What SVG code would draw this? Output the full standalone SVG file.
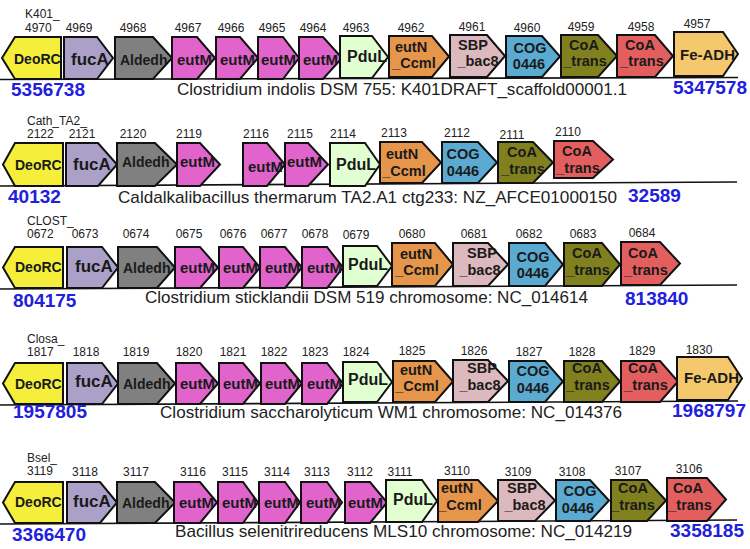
<svg xmlns="http://www.w3.org/2000/svg" width="750" height="549" viewBox="0 0 750 549">
<style>
polygon{stroke:#111;stroke-width:2;stroke-linejoin:miter}
.deo{fill:#f5ef3c}.fuc{fill:#aaa0c8}.ald{fill:#808080}.eut{fill:#e064cc}.pdu{fill:#e2ffd2}
.etn{fill:#e6964b}.sbp{fill:#dcb9be}.cog{fill:#5aaad2}.coa{fill:#80801e}.cor{fill:#e35f5f}.fe{fill:#f5c86e}
text{font-family:"Liberation Sans",Arial,sans-serif;fill:#1a1a1a}
.g{font-weight:bold;font-size:15px}
.g .s{text-anchor:middle;font-size:14.5px}
.f14{font-size:14px}.f16{font-size:16px}.f17{font-size:17px}
.g .n{font-size:12px;font-weight:normal;fill:#222;text-anchor:middle}
.g .nl{font-size:12px;font-weight:normal;fill:#222}
.sp{font-size:17px;fill:#222}
.bl{font-size:19px;font-weight:bold;fill:#2020dd}
.bb{stroke:#111;stroke-width:1.6}
</style>
<g id="backbones">
<line class="bb" x1="0" y1="79.5" x2="738" y2="77.5"/>
<line class="bb" x1="0" y1="186" x2="737" y2="182"/>
<line class="bb" x1="0" y1="289" x2="737" y2="285"/>
<line class="bb" x1="0" y1="405" x2="738" y2="401"/>
<line class="bb" x1="0" y1="524" x2="737" y2="520"/>
</g>

<g id="row1">
<g id="r1-g4970" class="g"><polygon class="deo" points="2,58 15,37 61,37 61,79 15,79"/><text class="f14" x="14" y="64">DeoRC</text><text class="nl" x="25" y="18">K401_</text><text class="nl" x="25" y="31.5">4970</text></g>
<g id="r1-g4969" class="g"><polygon class="fuc" points="64,37 97,37 113,58 97,79 64,79"/><text class="f17" x="71" y="65">fucA</text><text class="n" x="79" y="31.5">4969</text></g>
<g id="r1-g4968" class="g"><polygon class="ald" points="115,37 153,37 172,58 153,79 115,79"/><text class="f14" x="120" y="65">Aldedh</text><text class="n" x="133" y="31.5">4968</text></g>
<g id="r1-g4967" class="g"><polygon class="eut" points="172,37 197,37 215,58 197,79 172,79"/><text x="177" y="65">eutM</text><text class="n" x="188" y="31.5">4967</text></g>
<g id="r1-g4966" class="g"><polygon class="eut" points="216,37 240,37 258,58 240,79 216,79"/><text x="220" y="65">eutM</text><text class="n" x="231" y="31.5">4966</text></g>
<g id="r1-g4965" class="g"><polygon class="eut" points="258,37 283,37 299,58 283,79 258,79"/><text x="261" y="65">eutM</text><text class="n" x="272" y="31.5">4965</text></g>
<g id="r1-g4964" class="g"><polygon class="eut" points="299,37 323,37 342,58 323,79 299,79"/><text x="303" y="65">eutM</text><text class="n" x="313" y="31.5">4964</text></g>
<g id="r1-g4963" class="g"><polygon class="pdu" points="340,36 372,36 388,57 372,78 340,78"/><text class="f16" x="347" y="62">PduL</text><text class="n" x="356" y="31.5">4963</text></g>
<g id="r1-g4962" class="g"><polygon class="etn" points="389,36 432,36 449,56.5 432,77 389,77"/><text class="s" x="411" y="52">eutN</text><text class="s" x="414" y="68">_Ccml</text><text class="n" x="411" y="31.5">4962</text></g>
<g id="r1-g4961" class="g"><polygon class="sbp" points="450,35 487,35 505,56 487,77 450,77"/><text class="s" x="473" y="50">SBP</text><text class="s" x="478" y="66">_bac8</text><text class="n" x="472" y="31">4961</text></g>
<g id="r1-g4960" class="g"><polygon class="cog" points="506,36 542,36 560,56.5 542,77 506,77"/><text class="s" x="530" y="53">COG</text><text class="s" x="529" y="69">0446</text><text class="n" x="527" y="31.5">4960</text></g>
<g id="r1-g4959" class="g"><polygon class="coa" points="561,35 598,35 617,56 598,77 561,77"/><text class="s" x="584" y="50">CoA</text><text class="s" x="585" y="66">_trans</text><text class="n" x="581" y="31">4959</text></g>
<g id="r1-g4958" class="g"><polygon class="cor" points="617,35 655,35 673,56 655,77 617,77"/><text class="s" x="640" y="50">CoA</text><text class="s" x="642" y="66">_trans</text><text class="n" x="641" y="31">4958</text></g>
<g id="r1-g4957" class="g"><polygon class="fe" points="674,32 723,32 738,54 723,76 674,76"/><text x="680" y="60">Fe-ADH</text><text class="n" x="697" y="28">4957</text></g>
<text class="bl" x="11" y="96">5356738</text>
<text class="sp" x="177" y="95" textLength="450" lengthAdjust="spacingAndGlyphs">Clostridium indolis DSM 755: K401DRAFT_scaffold00001.1</text>
<text class="bl" x="673" y="94">5347578</text>
</g>

<g id="row2">
<g id="r2-g2122" class="g"><polygon class="deo" points="3,164.5 15,143 63,143 63,186 15,186"/><text class="f14" x="15" y="170">DeoRC</text><text class="nl" x="27" y="125">Cath_TA2_</text><text class="nl" x="27" y="138">2122</text></g>
<g id="r2-g2121" class="g"><polygon class="fuc" points="66,143 98,143 117,164.5 98,186 66,186"/><text class="f17" x="73" y="170">fucA</text><text class="n" x="82" y="138">2121</text></g>
<g id="r2-g2120" class="g"><polygon class="ald" points="117,143 155,143 177,164.5 155,186 117,186"/><text class="f14" x="122" y="167">Aldedh</text><text class="n" x="133" y="138">2120</text></g>
<g id="r2-g2119" class="g"><polygon class="eut" points="177,143 200,143 220,164.5 200,186 177,186"/><text x="180" y="167">eutM</text><text class="n" x="189" y="138">2119</text></g>
<g id="r2-g2116" class="g"><polygon class="eut" points="243,143 267,143 285,164.5 267,186 243,186"/><text x="248" y="172">eutM</text><text class="n" x="256" y="138">2116</text></g>
<g id="r2-g2115" class="g"><polygon class="eut" points="285,143 308,143 328,164.5 308,186 285,186"/><text x="287" y="167">eutM</text><text class="n" x="300" y="138">2115</text></g>
<g id="r2-g2114" class="g"><polygon class="pdu" points="330,143 365,143 380,164.5 365,186 330,186"/><text class="f16" x="336" y="170">PduL</text><text class="n" x="343" y="138">2114</text></g>
<g id="r2-g2113" class="g"><polygon class="etn" points="380,142 422,142 441,162.5 422,183 380,183"/><text class="s" x="402" y="159">eutN</text><text class="s" x="404" y="176">_Ccml</text><text class="n" x="394" y="137">2113</text></g>
<g id="r2-g2112" class="g"><polygon class="cog" points="442,142 478,142 497,162.5 478,183 442,183"/><text class="s" x="463" y="159">COG</text><text class="s" x="463" y="176">0446</text><text class="n" x="457" y="137">2112</text></g>
<g id="r2-g2111" class="g"><polygon class="coa" points="498,142 533,142 553,162.5 533,183 498,183"/><text class="s" x="522" y="157">CoA</text><text class="s" x="523" y="174">_trans</text><text class="n" x="512" y="139">2111</text></g>
<g id="r2-g2110" class="g"><polygon class="cor" points="554,141 593,141 613,159.5 593,178 554,178"/><text class="s" x="577" y="156">CoA</text><text class="s" x="578" y="173">_trans</text><text class="n" x="568" y="136">2110</text></g>
<text class="bl" x="8" y="203">40132</text>
<text class="sp" x="118" y="203" textLength="499" lengthAdjust="spacingAndGlyphs">Caldalkalibacillus thermarum TA2.A1 ctg233: NZ_AFCE01000150</text>
<text class="bl" x="628" y="202">32589</text>
</g>

<g id="row3">
<g id="r3-g0672" class="g"><polygon class="deo" points="3,267.5 15,247 63,247 63,288 15,288"/><text class="f14" x="15" y="272">DeoRC</text><text class="nl" x="27" y="225">CLOST_</text><text class="nl" x="27" y="238">0672</text></g>
<g id="r3-g0673" class="g"><polygon class="fuc" points="67,247 102,247 118,267.5 102,288 67,288"/><text class="f17" x="75" y="272">fucA</text><text class="n" x="85" y="238">0673</text></g>
<g id="r3-g0674" class="g"><polygon class="ald" points="118,247 157,247 175,267.5 157,288 118,288"/><text class="f14" x="123" y="273">Aldedh</text><text class="n" x="136" y="238">0674</text></g>
<g id="r3-g0675" class="g"><polygon class="eut" points="175,247 200,247 218,267.5 200,288 175,288"/><text x="180" y="273">eutM</text><text class="n" x="189" y="238">0675</text></g>
<g id="r3-g0676" class="g"><polygon class="eut" points="219,247 243,247 260,267.5 243,288 219,288"/><text x="223" y="273">eutM</text><text class="n" x="233" y="238">0676</text></g>
<g id="r3-g0677" class="g"><polygon class="eut" points="260,247 285,247 302,267.5 285,288 260,288"/><text x="265" y="273">eutM</text><text class="n" x="274" y="238">0677</text></g>
<g id="r3-g0678" class="g"><polygon class="eut" points="302,247 327,247 343,267.5 327,288 302,288"/><text x="307" y="273">eutM</text><text class="n" x="315" y="238">0678</text></g>
<g id="r3-g0679" class="g"><polygon class="pdu" points="343,246 377,246 392,266 377,286 343,286"/><text class="f16" x="348" y="270">PduL</text><text class="n" x="356" y="239">0679</text></g>
<g id="r3-g0680" class="g"><polygon class="etn" points="392,243 435,243 453,264.5 435,286 392,286"/><text class="s" x="416" y="259">eutN</text><text class="s" x="417" y="275">_Ccml</text><text class="n" x="412" y="238">0680</text></g>
<g id="r3-g0681" class="g"><polygon class="sbp" points="453,243 488,243 508,264.5 488,286 453,286"/><text class="s" x="482" y="258">SBP</text><text class="s" x="480" y="275">_bac8</text><text class="n" x="474" y="238">0681</text></g>
<g id="r3-g0682" class="g"><polygon class="cog" points="509,243 545,243 563,264.5 545,286 509,286"/><text class="s" x="533" y="262">COG</text><text class="s" x="533" y="278">0446</text><text class="n" x="529" y="238">0682</text></g>
<g id="r3-g0683" class="g"><polygon class="coa" points="564,243 602,243 620,264.5 602,286 564,286"/><text class="s" x="587" y="258">CoA</text><text class="s" x="588" y="275">_trans</text><text class="n" x="583" y="238">0683</text></g>
<g id="r3-g0684" class="g"><polygon class="cor" points="621,242 660,242 680,263.5 660,285 621,285"/><text class="s" x="643" y="258">CoA</text><text class="s" x="646" y="275">_trans</text><text class="n" x="642" y="237">0684</text></g>
<text class="bl" x="13" y="307">804175</text>
<text class="sp" x="145" y="303" textLength="443" lengthAdjust="spacingAndGlyphs">Clostridium sticklandii DSM 519 chromosome: NC_014614</text>
<text class="bl" x="625" y="305">813840</text>
</g>

<g id="row4">
<g id="r4-g1817" class="g"><polygon class="deo" points="3,383.5 15,363 63,363 63,404 15,404"/><text class="f14" x="15" y="389">DeoRC</text><text class="nl" x="27" y="343">Closa_</text><text class="nl" x="27" y="356">1817</text></g>
<g id="r4-g1818" class="g"><polygon class="fuc" points="67,363 102,363 118,383.5 102,404 67,404"/><text class="f17" x="75" y="387">fucA</text><text class="n" x="86" y="356">1818</text></g>
<g id="r4-g1819" class="g"><polygon class="ald" points="118,363 157,363 175,383.5 157,404 118,404"/><text class="f14" x="123" y="389">Aldedh</text><text class="n" x="136" y="356">1819</text></g>
<g id="r4-g1820" class="g"><polygon class="eut" points="176,363 200,363 218,383.5 200,404 176,404"/><text x="180" y="389">eutM</text><text class="n" x="189" y="356">1820</text></g>
<g id="r4-g1821" class="g"><polygon class="eut" points="219,363 243,363 260,383.5 243,404 219,404"/><text x="223" y="389">eutM</text><text class="n" x="233" y="356">1821</text></g>
<g id="r4-g1822" class="g"><polygon class="eut" points="261,363 285,363 302,383.5 285,404 261,404"/><text x="265" y="389">eutM</text><text class="n" x="274" y="356">1822</text></g>
<g id="r4-g1823" class="g"><polygon class="eut" points="302,363 327,363 343,383.5 327,404 302,404"/><text x="307" y="389">eutM</text><text class="n" x="315" y="356">1823</text></g>
<g id="r4-g1824" class="g"><polygon class="pdu" points="343,362 377,362 392,382 377,402 343,402"/><text class="f16" x="348" y="385">PduL</text><text class="n" x="356" y="356">1824</text></g>
<g id="r4-g1825" class="g"><polygon class="etn" points="393,361 435,361 453,381.5 435,402 393,402"/><text class="s" x="416" y="375">eutN</text><text class="s" x="417" y="391">_Ccml</text><text class="n" x="412" y="355">1825</text></g>
<g id="r4-g1826" class="g"><polygon class="sbp" points="453,360 488,360 508,381 488,402 453,402"/><text class="s" x="482" y="373">SBP</text><text class="s" x="480" y="390">_bac8</text><text class="n" x="474" y="355">1826</text></g>
<g id="r4-g1827" class="g"><polygon class="cog" points="509,361 545,361 563,381.5 545,402 509,402"/><text class="s" x="533" y="376">COG</text><text class="s" x="533" y="393">0446</text><text class="n" x="529" y="356">1827</text></g>
<g id="r4-g1828" class="g"><polygon class="coa" points="564,361 602,361 620,381.5 602,402 564,402"/><text class="s" x="587" y="373">CoA</text><text class="s" x="588" y="390">_trans</text><text class="n" x="582" y="356">1828</text></g>
<g id="r4-g1829" class="g"><polygon class="cor" points="621,361 660,361 678,381.5 660,402 621,402"/><text class="s" x="643" y="373">CoA</text><text class="s" x="646" y="390">_trans</text><text class="n" x="642" y="355">1829</text></g>
<g id="r4-g1830" class="g"><polygon class="fe" points="677,357 728,357 742,378.5 728,400 677,400"/><text x="684" y="383">Fe-ADH</text><text class="n" x="699" y="354">1830</text></g>
<text class="bl" x="13" y="418">1957805</text>
<text class="sp" x="160" y="418" textLength="462" lengthAdjust="spacingAndGlyphs">Clostridium saccharolyticum WM1 chromosome: NC_014376</text>
<text class="bl" x="672" y="417">1968797</text>
</g>

<g id="row5">
<g id="r5-g3119" class="g"><polygon class="deo" points="3,502.5 15,482 63,482 63,523 15,523"/><text class="f14" x="15" y="507">DeoRC</text><text class="nl" x="27" y="462">Bsel_</text><text class="nl" x="27" y="475">3119</text></g>
<g id="r5-g3118" class="g"><polygon class="fuc" points="67,482 100,482 117,502.5 100,523 67,523"/><text class="f17" x="73" y="507">fucA</text><text class="n" x="85" y="476">3118</text></g>
<g id="r5-g3117" class="g"><polygon class="ald" points="117,482 155,482 175,502.5 155,523 117,523"/><text class="f14" x="122" y="508">Aldedh</text><text class="n" x="136" y="476">3117</text></g>
<g id="r5-g3116" class="g"><polygon class="eut" points="174,482 200,482 217,502.5 200,523 174,523"/><text x="179" y="508">eutM</text><text class="n" x="193" y="476">3116</text></g>
<g id="r5-g3115" class="g"><polygon class="eut" points="218,482 243,482 258,502.5 243,523 218,523"/><text x="222" y="508">eutM</text><text class="n" x="235" y="476">3115</text></g>
<g id="r5-g3114" class="g"><polygon class="eut" points="259,482 285,482 300,502.5 285,523 259,523"/><text x="264" y="508">eutM</text><text class="n" x="277" y="476">3114</text></g>
<g id="r5-g3113" class="g"><polygon class="eut" points="301,482 327,482 342,502.5 327,523 301,523"/><text x="306" y="508">eutM</text><text class="n" x="317" y="476">3113</text></g>
<g id="r5-g3112" class="g"><polygon class="eut" points="345,482 370,482 387,502.5 370,523 345,523"/><text x="348" y="508">eutM</text><text class="n" x="360" y="476">3112</text></g>
<g id="r5-g3111" class="g"><polygon class="pdu" points="386,480 422,480 437,501 422,522 386,522"/><text class="f16" x="393" y="505">PduL</text><text class="n" x="400" y="476">3111</text></g>
<g id="r5-g3110" class="g"><polygon class="etn" points="438,480 478,480 498,501 478,522 438,522"/><text class="s" x="457" y="493">eutN</text><text class="s" x="460" y="510">_Ccml</text><text class="n" x="457" y="475">3110</text></g>
<g id="r5-g3109" class="g"><polygon class="sbp" points="498,480 535,480 555,500.5 535,521 498,521"/><text class="s" x="522" y="493">SBP</text><text class="s" x="525" y="510">_bac8</text><text class="n" x="518" y="476">3109</text></g>
<g id="r5-g3108" class="g"><polygon class="cog" points="556,480 590,480 609,500.5 590,521 556,521"/><text class="s" x="580" y="496">COG</text><text class="s" x="578" y="513">0446</text><text class="n" x="572" y="476">3108</text></g>
<g id="r5-g3107" class="g"><polygon class="coa" points="611,480 647,480 666,500.5 647,521 611,521"/><text class="s" x="633" y="493">CoA</text><text class="s" x="633" y="510">_trans</text><text class="n" x="628" y="475">3107</text></g>
<g id="r5-g3106" class="g"><polygon class="cor" points="667,478 707,478 726,499.5 707,521 667,521"/><text class="s" x="688" y="493">CoA</text><text class="s" x="690" y="510">_trans</text><text class="n" x="689" y="473">3106</text></g>
<text class="bl" x="12" y="541">3366470</text>
<text class="sp" x="175" y="537" textLength="457" lengthAdjust="spacingAndGlyphs">Bacillus selenitrireducens MLS10 chromosome: NC_014219</text>
<text class="bl" x="670" y="537">3358185</text>
</g>
</svg>
